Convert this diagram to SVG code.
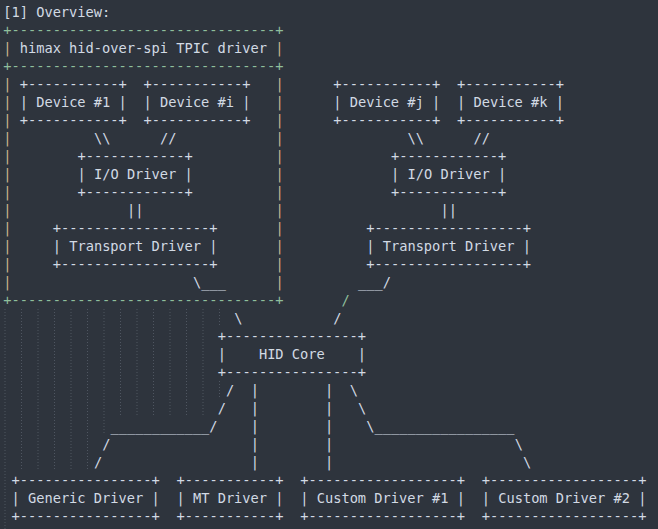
<svg xmlns="http://www.w3.org/2000/svg" width="658" height="529" viewBox="0 0 658 529" xml:space="preserve">
<style>
text { font-family: "DejaVu Sans Mono", "Liberation Mono", monospace; font-size: 13.7px; white-space: pre; fill: #d2dae4; }
.g { fill: #8fbf9c; }
.t { fill: #cdb68f; }
.guide { stroke: #4f5661; stroke-width: 1; stroke-dasharray: 1 2; fill: none; }
</style>
<rect x="0" y="0" width="658" height="529" fill="#2e343d"/>
<g id="indent-guides">
<path class="guide" d="M5,309V327 M21.5,309V327 M38,309V327 M54.5,309V327 M71,309V327 M87.5,309V327 M104,309V327 M120.5,309V327 M137,309V327 M153.5,309V327 M170,309V327 M186.5,309V327 M203,309V327 M219.5,309V327"/>
<path class="guide" d="M5,327V381 M21.5,327V381 M38,327V381 M54.5,327V381 M71,327V381 M87.5,327V381 M104,327V381 M120.5,327V381 M137,327V381 M153.5,327V381 M170,327V381 M186.5,327V381 M203,327V381"/>
<path class="guide" d="M5,381V417 M21.5,381V417 M38,381V417 M54.5,381V417 M71,381V417 M87.5,381V417 M104,381V417 M120.5,381V417 M137,381V417 M153.5,381V417 M170,381V417 M186.5,381V417 M203,381V417 M219.5,381V399"/>
<path class="guide" d="M5,417V529 M21.5,417V471 M38,417V471 M54.5,417V471 M71,417V471 M87.5,417V471 M104,417V435"/>
</g>
<text x="3.2" y="17.3">[1] Overview:</text>
<g id="himax-driver">
<text class="g" x="3.2" y="35.3">+--------------------------------+</text>
<text x="3.2" y="53.3"><tspan class="t">|</tspan> himax hid-over-spi TPIC driver <tspan class="t">|</tspan></text>
<text class="g" x="3.2" y="71.3">+--------------------------------+</text>
<text class="t" x="3.2" y="89.3">|</text><text class="t" x="275.45" y="89.3">|</text>
<text class="t" x="3.2" y="107.3">|</text><text class="t" x="275.45" y="107.3">|</text>
<text class="t" x="3.2" y="125.3">|</text><text class="t" x="275.45" y="125.3">|</text>
<text class="t" x="3.2" y="143.3">|</text><text class="t" x="275.45" y="143.3">|</text>
<text class="t" x="3.2" y="161.3">|</text><text class="t" x="275.45" y="161.3">|</text>
<text class="t" x="3.2" y="179.3">|</text><text class="t" x="275.45" y="179.3">|</text>
<text class="t" x="3.2" y="197.3">|</text><text class="t" x="275.45" y="197.3">|</text>
<text class="t" x="3.2" y="215.3">|</text><text class="t" x="275.45" y="215.3">|</text>
<text class="t" x="3.2" y="233.3">|</text><text class="t" x="275.45" y="233.3">|</text>
<text class="t" x="3.2" y="251.3">|</text><text class="t" x="275.45" y="251.3">|</text>
<text class="t" x="3.2" y="269.3">|</text><text class="t" x="275.45" y="269.3">|</text>
<text class="t" x="3.2" y="287.3">|</text><text class="t" x="275.45" y="287.3">|</text>
<text class="g" x="3.2" y="305.3">+--------------------------------+</text>
</g>
<g id="device-1">
<text x="19.7" y="89.3">+-----------+</text>
<text x="19.7" y="107.3">| Device #1 |</text>
<text x="19.7" y="125.3">+-----------+</text>
</g>
<g id="device-i">
<text x="143.45" y="89.3">+-----------+</text>
<text x="143.45" y="107.3">| Device #i |</text>
<text x="143.45" y="125.3">+-----------+</text>
</g>
<g id="io-driver-1">
<text x="77.45" y="161.3">+------------+</text>
<text x="77.45" y="179.3">| I/O Driver |</text>
<text x="77.45" y="197.3">+------------+</text>
</g>
<g id="transport-driver-1">
<text x="52.7" y="233.3">+------------------+</text>
<text x="52.7" y="251.3">| Transport Driver |</text>
<text x="52.7" y="269.3">+------------------+</text>
</g>
<g id="device-j">
<text x="333.2" y="89.3">+-----------+</text>
<text x="333.2" y="107.3">| Device #j |</text>
<text x="333.2" y="125.3">+-----------+</text>
</g>
<g id="device-k">
<text x="456.95" y="89.3">+-----------+</text>
<text x="456.95" y="107.3">| Device #k |</text>
<text x="456.95" y="125.3">+-----------+</text>
</g>
<g id="io-driver-2">
<text x="390.95" y="161.3">+------------+</text>
<text x="390.95" y="179.3">| I/O Driver |</text>
<text x="390.95" y="197.3">+------------+</text>
</g>
<g id="transport-driver-2">
<text x="366.2" y="233.3">+------------------+</text>
<text x="366.2" y="251.3">| Transport Driver |</text>
<text x="366.2" y="269.3">+------------------+</text>
</g>
<g id="hid-core">
<text x="217.7" y="341.3">+----------------+</text>
<text x="217.7" y="359.3">|    HID Core    |</text>
<text x="217.7" y="377.3">+----------------+</text>
</g>
<g id="generic-driver">
<text x="11.45" y="485.3">+----------------+</text>
<text x="11.45" y="503.3">| Generic Driver |</text>
<text x="11.45" y="521.3">+----------------+</text>
</g>
<g id="mt-driver">
<text x="176.45" y="485.3">+-----------+</text>
<text x="176.45" y="503.3">| MT Driver |</text>
<text x="176.45" y="521.3">+-----------+</text>
</g>
<g id="custom-driver-1">
<text x="300.2" y="485.3">+------------------+</text>
<text x="300.2" y="503.3">| Custom Driver #1 |</text>
<text x="300.2" y="521.3">+------------------+</text>
</g>
<g id="custom-driver-2">
<text x="481.7" y="485.3">+------------------+</text>
<text x="481.7" y="503.3">| Custom Driver #2 |</text>
<text x="481.7" y="521.3">+------------------+</text>
</g>
<g id="connectors">
<text x="93.95" y="143.3">\\</text>
<text x="159.95" y="143.3">//</text>
<text x="407.45" y="143.3">\\</text>
<text x="473.45" y="143.3">//</text>
<text x="126.95" y="215.3">||</text>
<text x="440.45" y="215.3">||</text>
<text x="192.95" y="287.3">\___</text>
<text x="357.95" y="287.3">___/</text>
<text class="g" x="341.45" y="305.3">/</text>
<text x="234.2" y="323.3">\</text>
<text x="333.2" y="323.3">/</text>
<text x="225.95" y="395.3">/</text>
<text x="349.7" y="395.3">\</text>
<text x="217.7" y="413.3">/</text>
<text x="357.95" y="413.3">\</text>
<text x="110.45" y="431.3">____________/</text>
<text x="366.2" y="431.3">\_________________</text>
<text x="102.2" y="449.3">/</text>
<text x="514.7" y="449.3">\</text>
<text x="93.95" y="467.3">/</text>
<text x="522.95" y="467.3">\</text>
<text x="250.7" y="395.3">|</text><text x="324.95" y="395.3">|</text>
<text x="250.7" y="413.3">|</text><text x="324.95" y="413.3">|</text>
<text x="250.7" y="431.3">|</text><text x="324.95" y="431.3">|</text>
<text x="250.7" y="449.3">|</text><text x="324.95" y="449.3">|</text>
<text x="250.7" y="467.3">|</text><text x="324.95" y="467.3">|</text>
</g>
</svg>
